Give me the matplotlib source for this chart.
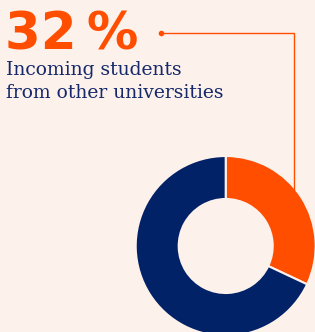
import matplotlib
matplotlib.use("Agg")
import matplotlib.pyplot as plt

labels = ["Other universities", "Rest"]
values = [32, 68]
colors = ["#FF4E00", "#022268"]
bg = "#FDF1EC"
headline = "32\u2009%"
subtitle_lines = ["Incoming students", "from other universities"]

W, H = 315, 332
fig = plt.figure(figsize=(W / 100, H / 100), dpi=100, facecolor=bg)
ax = fig.add_axes([0, 0, 1, 1])
ax.set_facecolor(bg)

cx, cy, r = 225.7, H - 246, 90
ax.pie(values, colors=colors, startangle=90, counterclock=False,
       center=(cx, cy), radius=r, frame=True,
       wedgeprops=dict(width=43, edgecolor=bg, linewidth=1.5))
ax.set_xlim(0, W)
ax.set_ylim(0, H)
ax.set_aspect("equal")
ax.axis("off")

# connector line
ax.plot([161, 294, 294], [H - 33, H - 33, H - 190], color="#FF4E00", lw=1.0)
ax.plot([161], [H - 33], "o", color="#FF4E00", ms=3)

ax.text(5, H - 50, headline, color="#FF4E00", fontsize=37, fontfamily="DejaVu Sans",
        fontweight="bold", va="baseline", ha="left")
for i, line in enumerate(subtitle_lines):
    ax.text(6, H - 75 - 23 * i, line, color="#14286A", fontsize=13.5,
            fontfamily="DejaVu Serif", va="baseline", ha="left")

fig.savefig("out.png", dpi=100, facecolor=bg)
